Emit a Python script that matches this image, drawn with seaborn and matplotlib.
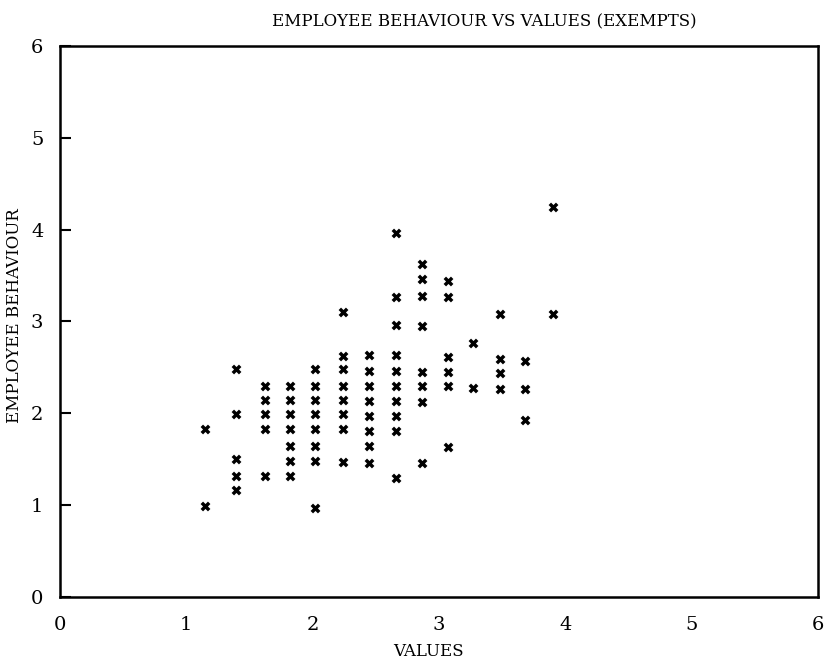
import pandas as pd
import seaborn as sns
import matplotlib.pyplot as plt

# Values column positions (x) and the behaviour scores stacked in each column
value_levels = [1.15, 1.39, 1.62, 1.82, 2.02, 2.24, 2.45, 2.66, 2.87, 3.07, 3.27, 3.48, 3.68, 3.90]
behaviour_scores = [
    [1.83, 0.99],
    [2.48, 1.99, 1.50, 1.32, 1.16],
    [2.30, 2.15, 1.99, 1.83, 1.32],
    [2.30, 2.15, 1.99, 1.83, 1.64, 1.48, 1.32],
    [2.48, 2.30, 2.15, 1.99, 1.83, 1.64, 1.48, 0.97],
    [3.10, 2.62, 2.48, 2.30, 2.15, 1.99, 1.83, 1.47],
    [2.64, 2.46, 2.30, 2.13, 1.97, 1.81, 1.64, 1.46],
    [3.96, 3.27, 2.96, 2.64, 2.46, 2.30, 2.13, 1.97, 1.81, 1.30],
    [3.62, 3.46, 3.28, 2.95, 2.45, 2.30, 2.12, 1.46],
    [3.44, 3.27, 2.61, 2.45, 2.30, 1.63],
    [2.77, 2.28],
    [3.08, 2.59, 2.44, 2.26],
    [2.57, 2.26, 1.93],
    [4.25, 3.08],
]
tick_values = [0, 1, 2, 3, 4, 5, 6]

# Long table for seaborn
rows = []
for x, ys in zip(value_levels, behaviour_scores):
    for y in ys:
        rows.append({"Values": x, "Behaviour": y})
exempts = pd.DataFrame(rows)

sns.set_style("ticks")
plt.rcParams["font.family"] = ["DejaVu Serif"]
plt.rcParams["text.color"] = "black"
plt.rcParams["xtick.color"] = "black"
plt.rcParams["ytick.color"] = "black"

fig = plt.figure(figsize=(8.3, 6.68), dpi=100)
ax = fig.add_axes([0.0723, 0.1063, 0.913, 0.825])

sns.scatterplot(data=exempts, x="Values", y="Behaviour", ax=ax,
                marker="X", s=50, color="black", linewidth=0)

ax.set_xlim(0, 6)
ax.set_ylim(0, 6)
ax.set_xticks(tick_values)
ax.set_yticks(tick_values)
ax.set_xlabel("")
ax.set_ylabel("")

for side in ["left", "right", "top", "bottom"]:
    ax.spines[side].set_visible(True)
    ax.spines[side].set_linewidth(1.8)
    ax.spines[side].set_color("black")

ax.tick_params(axis="x", length=0, pad=14, labelsize=14)
ax.tick_params(axis="y", direction="in", length=8, width=1.5, pad=12, labelsize=14)

fig.text(0.584, 0.968, "EMPLOYEE BEHAVIOUR VS VALUES (EXEMPTS)",
         ha="center", va="center", fontsize=12)
fig.text(0.516, 0.024, "VALUES", ha="center", va="center", fontsize=12)
fig.text(0.018, 0.527, "EMPLOYEE BEHAVIOUR", ha="center", va="center",
         rotation=90, fontsize=12)

plt.savefig("out.png", dpi=100)
